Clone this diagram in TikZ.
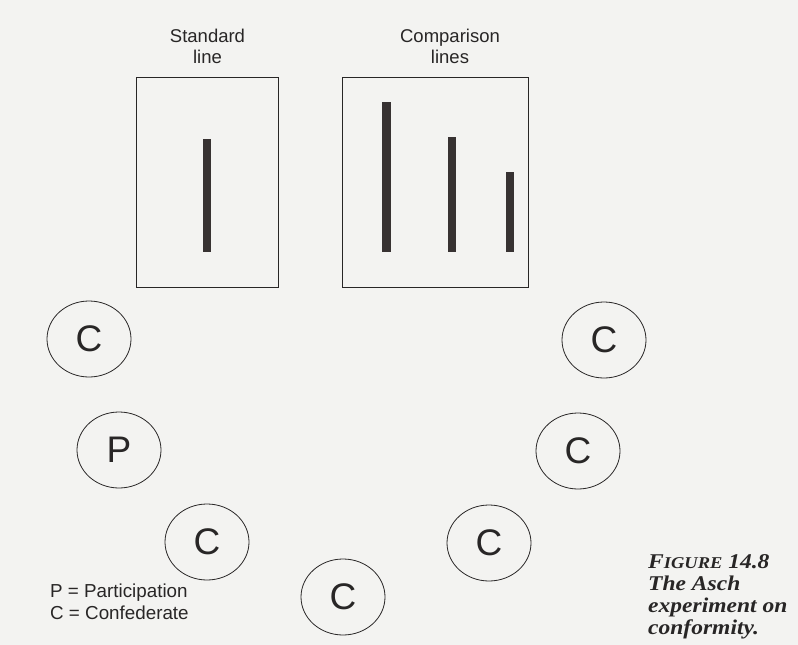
\documentclass[tikz,border=0pt]{standalone}
\usepackage{fontspec}
\newfontfamily\sansfont{Liberation Sans}
\newfontfamily\capfont{Liberation Serif}[FakeStretch=1.12]
\usetikzlibrary{shapes.geometric}
\definecolor{paper}{RGB}{243,243,241}
\definecolor{ink}{RGB}{40,38,38}
\definecolor{barcol}{RGB}{55,50,50}
\begin{document}
\begin{tikzpicture}[x=1pt,y=-1pt,
  lbl/.style={font=\sansfont\fontsize{18.5}{21}\selectfont, text=ink, align=center, inner sep=0},
  panel/.style={draw=ink, line width=0.9pt, inner sep=0},
  bar/.style={fill=barcol},
  person/.style={ellipse, draw=ink, line width=0.8pt, minimum width=84pt, minimum height=76pt, inner sep=0, font=\sansfont\fontsize{37}{37}\selectfont, text=ink},
  legend/.style={font=\sansfont\fontsize{18.8}{22}\selectfont, anchor=base west, text=ink, inner sep=0},
  caption/.style={font=\capfont\bfseries\itshape\fontsize{21}{22}\selectfont, anchor=base west, inner sep=0, text=ink}]
\useasboundingbox (0,0) rectangle (798,645);
\fill[paper] (0,0) rectangle (798,645);
% panels
\node[panel, minimum width=142pt, minimum height=210pt] (std) at (207,182) {};
\node[panel, minimum width=186pt, minimum height=210pt] (cmp) at (435,182) {};
\node[lbl] (stdlbl) at (207.5,46.5) {Standard\\line};
\node[lbl] (cmplbl) at (450,46.5) {Comparison\\lines};
% bars
\fill[bar] (203,139) rectangle (211,252);
\fill[bar] (382,102) rectangle (391,252);
\fill[bar] (448,137) rectangle (456,252);
\fill[bar] (506,172) rectangle (514,252);
% people
\node[person] (c1) at (89,339) {C};
\node[person] (c2) at (604,340) {C};
\node[person] (p)  at (119,450) {P};
\node[person] (c3) at (578,451) {C};
\node[person] (c4) at (207,542) {C};
\node[person] (c5) at (343,597) {C};
\node[person] (c6) at (489,543) {C};
% legend
\node[legend] (lp) at (50,597) {P = Participation};
\node[legend] (lc) at (50,619) {C = Confederate};
% caption
\node[caption] (cap1) at (648,568) {F{\fontsize{16.5}{18}\selectfont IGURE} 14.8};
\node[caption] (cap2) at (648,590) {The Asch};
\node[caption] (cap3) at (648,612) {experiment on};
\node[caption] (cap4) at (648,634) {conformity.};
\end{tikzpicture}
\end{document}
